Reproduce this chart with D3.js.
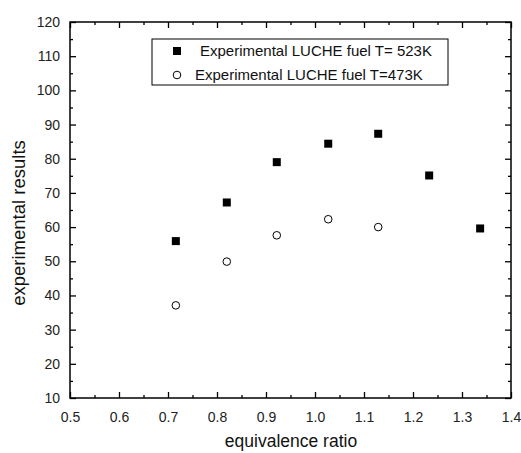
<!DOCTYPE html>
<html>
<head>
<meta charset="utf-8">
<script src="https://cdn.jsdelivr.net/npm/d3@7"></script>
<style>
  body { margin: 0; background: #fff; }
  svg { font-family: "Liberation Sans", Arial, sans-serif; }
</style>
</head>
<body>
<script>
// data
const ratio523 = [0.716, 0.82, 0.922, 1.027, 1.129, 1.233, 1.337];
const results523 = [55.9, 67.2, 79.0, 84.4, 87.3, 75.1, 59.6];
const ratio473 = [0.716, 0.82, 0.922, 1.027, 1.129];
const results473 = [37.1, 49.9, 57.6, 62.3, 60.0];
const xTicks = [0.5, 0.6, 0.7, 0.8, 0.9, 1.0, 1.1, 1.2, 1.3, 1.4];
const yTicks = [10, 20, 30, 40, 50, 60, 70, 80, 90, 100, 110, 120];
const legendLabels = ["Experimental LUCHE fuel T= 523K", "Experimental LUCHE fuel T=473K"];

const W = 521, H = 453;
const margin = { top: 22, right: 10, bottom: 55, left: 70 };
const width = W - margin.left - margin.right;   // 441 -> 0.5..1.4
const height = H - margin.top - margin.bottom;

const x = d3.scaleLinear().domain([0.5, 1.4]).range([0, width]);
const y = d3.scaleLinear().domain([10, 120]).range([height, 0]);

const svg = d3.select('body').append('svg')
  .attr('width', W).attr('height', H);

const g = svg.append('g')
  .attr('transform', `translate(${margin.left},${margin.top})`);

// minor ticks every 0.05 / 5
const xMinor = d3.range(0.55, 1.4, 0.1);
const yMinor = d3.range(15, 120, 10);

function styleAxis(sel) {
  sel.select('.domain').remove();
  sel.selectAll('line').attr('stroke', '#000').attr('stroke-width', 1.3);
  sel.selectAll('text').attr('fill', '#222').style('font-size', '14px');
}

// bottom
g.append('g').attr('transform', `translate(0,${height})`)
  .call(d3.axisBottom(x).tickValues(xTicks).tickSizeInner(-6).tickSizeOuter(0).tickPadding(14).tickFormat(d3.format('.1f')))
  .call(styleAxis);
g.append('g').attr('transform', `translate(0,${height})`)
  .call(d3.axisBottom(x).tickValues(xMinor).tickSize(-3).tickFormat(''))
  .call(styleAxis);
// top
g.append('g')
  .call(d3.axisTop(x).tickValues(xTicks).tickSize(-6).tickFormat(''))
  .call(styleAxis);
g.append('g')
  .call(d3.axisTop(x).tickValues(xMinor).tickSize(-3).tickFormat(''))
  .call(styleAxis);
// left
g.append('g')
  .call(d3.axisLeft(y).tickValues(yTicks).tickSizeInner(-6).tickSizeOuter(0).tickPadding(10))
  .call(styleAxis);
g.append('g')
  .call(d3.axisLeft(y).tickValues(yMinor).tickSize(-3).tickFormat(''))
  .call(styleAxis);
// right
g.append('g').attr('transform', `translate(${width},0)`)
  .call(d3.axisRight(y).tickValues(yTicks).tickSize(-6).tickFormat(''))
  .call(styleAxis);
g.append('g').attr('transform', `translate(${width},0)`)
  .call(d3.axisRight(y).tickValues(yMinor).tickSize(-3).tickFormat(''))
  .call(styleAxis);

// frame
g.append('rect')
  .attr('width', width).attr('height', height)
  .attr('fill', 'none').attr('stroke', '#000').attr('stroke-width', 1.5);

// points
const sq = 8;
g.selectAll('rect.p523')
  .data(d3.zip(ratio523, results523))
  .enter().append('rect')
  .attr('class', 'p523')
  .attr('x', d => x(d[0]) - sq / 2)
  .attr('y', d => y(d[1]) - sq / 2)
  .attr('width', sq).attr('height', sq)
  .attr('fill', '#000');

g.selectAll('circle.p473')
  .data(d3.zip(ratio473, results473))
  .enter().append('circle')
  .attr('class', 'p473')
  .attr('cx', d => x(d[0]))
  .attr('cy', d => y(d[1]))
  .attr('r', 3.8)
  .attr('fill', '#fff').attr('stroke', '#000').attr('stroke-width', 1);

// legend
const legend = svg.append('g').attr('transform', 'translate(152,39)');
legend.append('rect')
  .attr('width', 296).attr('height', 46)
  .attr('fill', '#fff').attr('stroke', '#000').attr('stroke-width', 1);
legend.append('rect')
  .attr('x', 21).attr('y', 8).attr('width', sq).attr('height', sq).attr('fill', '#000');
legend.append('circle')
  .attr('cx', 25).attr('cy', 36).attr('r', 3.8)
  .attr('fill', '#fff').attr('stroke', '#000');
legend.selectAll('text')
  .data(legendLabels)
  .enter().append('text')
  .attr('x', (d, i) => i === 0 ? 48 : 43)
  .attr('y', (d, i) => 17 + i * 24)
  .attr('fill', '#111')
  .style('font-size', '15px')
  .text(d => d);

// axis titles
svg.append('text')
  .attr('x', 291).attr('y', 447)
  .attr('text-anchor', 'middle')
  .attr('fill', '#111')
  .style('font-size', '17.5px')
  .text('equivalence ratio');

svg.append('text')
  .attr('transform', 'translate(25,223) rotate(-90)')
  .attr('text-anchor', 'middle')
  .attr('fill', '#111')
  .style('font-size', '18.5px')
  .text('experimental results');
</script>
</body>
</html>
